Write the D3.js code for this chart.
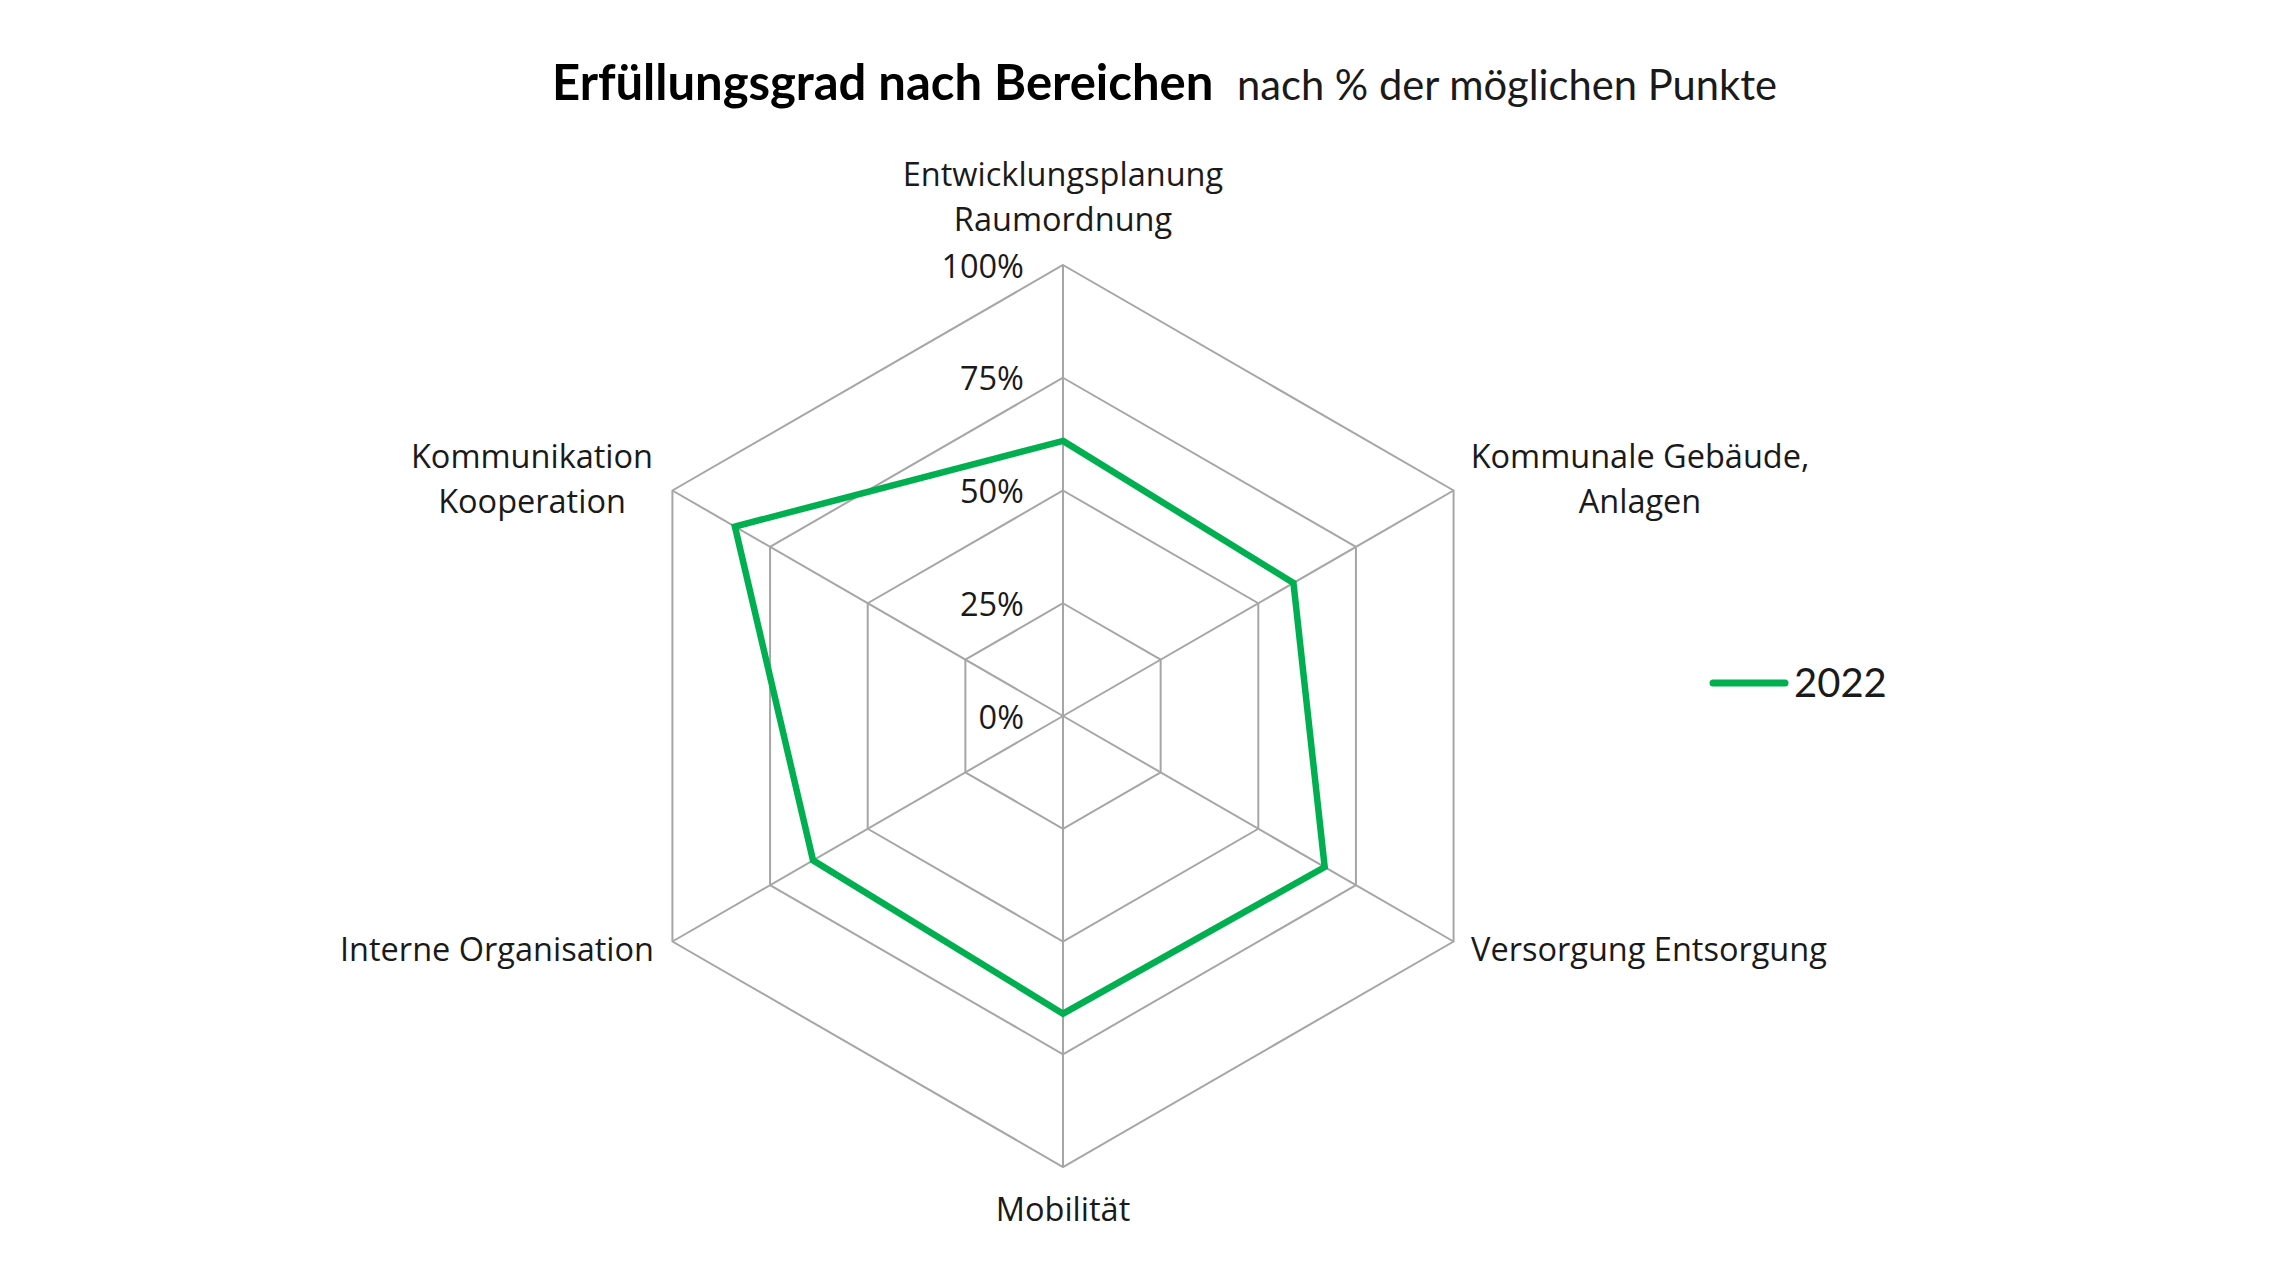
<!DOCTYPE html>
<html><head><meta charset="utf-8">
<script src="https://cdn.jsdelivr.net/npm/d3@7"></script>
<style>html,body{margin:0;padding:0;background:#fff;}</style>
</head><body>
<svg id="chart" width="2280" height="1283"></svg>
<script>
const categories = [
  ["Entwicklungsplanung", "Raumordnung"],
  ["Kommunale Gebäude,", "Anlagen"],
  ["Versorgung Entsorgung"],
  ["Mobilität"],
  ["Interne Organisation"],
  ["Kommunikation", "Kooperation"]
];
const values2022 = [0.61, 0.59, 0.67, 0.66, 0.64, 0.84];
const ticks = [0, 0.25, 0.5, 0.75, 1];
const tickLabels = ["0%", "25%", "50%", "75%", "100%"];
const seriesName = "2022";

const svg = d3.select("#chart");
const cx = 1063, cy = 716, R = 451;
const r = d3.scaleLinear().domain([0, 1]).range([0, R]);
const n = categories.length;
const angle = d3.scaleLinear().domain([0, n]).range([0, 2 * Math.PI]);
const pt = (i, v) => [cx + r(v) * Math.sin(angle(i)), cy - r(v) * Math.cos(angle(i))];

const g = svg.append("g");
const gridColor = "#a6a6a6";

// rings
ticks.filter(t => t > 0).forEach(t => {
  g.append("path")
    .attr("d", d3.line()(d3.range(n).map(i => pt(i, t))) + "Z")
    .attr("fill", "none").attr("stroke", gridColor).attr("stroke-width", 2);
});
// spokes
d3.range(n).forEach(i => {
  g.append("line")
    .attr("x1", cx).attr("y1", cy)
    .attr("x2", pt(i, 1)[0]).attr("y2", pt(i, 1)[1])
    .attr("stroke", gridColor).attr("stroke-width", 2);
});

// tick labels
const labelFont = "'Open Sans', 'Noto Sans', sans-serif";
ticks.forEach((t, k) => {
  g.append("text")
    .attr("x", cx - 39).attr("y", cy - r(t))
    .attr("text-anchor", "end").attr("dominant-baseline", "central")
    .attr("font-family", labelFont).attr("font-size", 32.5).attr("fill", "#1a1a1a")
    .text(tickLabels[k]);
});

// data line
const line = d3.lineRadial()
  .angle((d, i) => angle(i))
  .radius(d => r(d))
  .curve(d3.curveLinearClosed);
g.append("path")
  .attr("transform", `translate(${cx},${cy})`)
  .attr("d", line(values2022))
  .attr("fill", "none").attr("stroke", "#00B050").attr("stroke-width", 6.5)
  .attr("stroke-linejoin", "miter");

// category labels
const catPos = [
  {x: 1063, y: 186, anchor: "middle"},
  {x: 1640, y: 468, anchor: "middle"},
  {x: 1471, y: 961, anchor: "start"},
  {x: 1063, y: 1221, anchor: "middle"},
  {x: 654, y: 961, anchor: "end"},
  {x: 532, y: 468, anchor: "middle"}
];
categories.forEach((lines, i) => {
  const t = g.append("text")
    .attr("font-family", labelFont).attr("font-size", 32.5).attr("fill", "#1a1a1a")
    .attr("text-anchor", catPos[i].anchor);
  lines.forEach((s, j) => {
    t.append("tspan").attr("x", catPos[i].x).attr("y", catPos[i].y + j * 45).text(s);
  });
});

// title
const title = svg.append("text").attr("y", 100).attr("font-family", "Lato, 'Open Sans', sans-serif");
title.append("tspan").attr("x", 552).attr("font-weight", "bold").attr("font-size", 49).attr("fill", "#000")
  .text("Erfüllungsgrad nach Bereichen");
title.append("tspan").attr("x", 1237).attr("font-size", 41.7).attr("fill", "#1a1a1a")
  .text("nach % der möglichen Punkte");

// legend
svg.append("line").attr("x1", 1713).attr("x2", 1785).attr("y1", 683).attr("y2", 683)
  .attr("stroke", "#00B050").attr("stroke-width", 7).attr("stroke-linecap", "round");
svg.append("text").attr("x", 1794).attr("y", 697)
  .attr("font-family", "Lato, 'Open Sans', sans-serif").attr("font-size", 40).attr("fill", "#1a1a1a")
  .text(seriesName);
</script>
</body></html>
